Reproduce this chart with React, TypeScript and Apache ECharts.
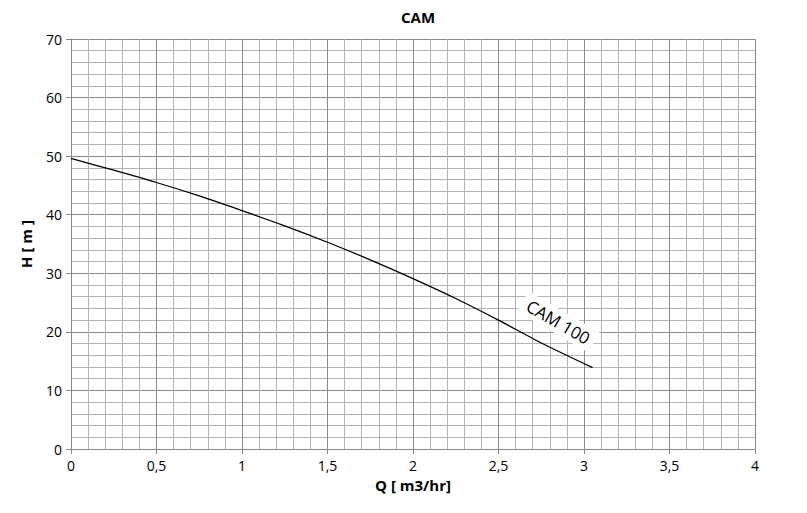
import React, { useEffect, useRef } from "react";
import * as echarts from "echarts";

const flowQ = [0, 0.25, 0.5, 0.75, 1, 1.25, 1.5, 1.75, 2, 2.25, 2.5, 2.75, 3.05];
const headH = [49.6, 47.6, 45.5, 43.2, 40.7, 38.1, 35.3, 32.3, 29.1, 25.7, 22.0, 18.1, 13.9];
const curveName = "CAM 100";
const labelAt = [2.85, 21.7];

const fmt = (v: number) => String(v).replace(".", ",");

export default function App() {
  const ref = useRef<HTMLDivElement>(null);
  useEffect(() => {
    if (!ref.current) return;
    const chart = echarts.init(ref.current, null, { renderer: "svg" });
    const font = "'Open Sans', 'Noto Sans', sans-serif";
    chart.setOption({
      animation: false,
      backgroundColor: "#fff",
      title: {
        text: "CAM",
        left: 413,
        textAlign: "center",
        top: 4,
        textStyle: { fontFamily: font, fontSize: 15, fontWeight: "bold", color: "#000" },
      },
      grid: { left: 71, right: 52, top: 39, bottom: 64 },
      xAxis: {
        type: "value",
        min: 0,
        max: 4,
        interval: 0.5,
        name: "Q [ m3/hr]",
        nameLocation: "middle",
        nameGap: 28,
        nameTextStyle: { fontFamily: font, fontSize: 15, fontWeight: "bold", color: "#000" },
        axisLine: { show: true, lineStyle: { color: "#888", width: 1 } },
        axisTick: { show: true, length: 5, lineStyle: { color: "#888" } },
        axisLabel: { formatter: fmt, margin: 9, fontFamily: font, fontSize: 14, color: "#000" },
        splitLine: { show: true, lineStyle: { color: "#8a8a8a", width: 1 } },
        minorTick: { show: false, splitNumber: 5 },
        minorSplitLine: { show: true, lineStyle: { color: "#b4b4b4", width: 1 } },
      },
      yAxis: {
        type: "value",
        min: 0,
        max: 70,
        interval: 10,
        name: "H [ m ]",
        nameLocation: "middle",
        nameGap: 38,
        nameRotate: 90,
        nameTextStyle: { fontFamily: font, fontSize: 15, fontWeight: "bold", color: "#000" },
        axisLine: { show: true, lineStyle: { color: "#888", width: 1 } },
        axisTick: { show: true, length: 5, lineStyle: { color: "#888" } },
        axisLabel: { margin: 9, fontFamily: font, fontSize: 14, color: "#000" },
        splitLine: { show: true, lineStyle: { color: "#8a8a8a", width: 1 } },
        minorTick: { show: false, splitNumber: 5 },
        minorSplitLine: { show: true, lineStyle: { color: "#b4b4b4", width: 1 } },
      },
      series: [
        {
          type: "line",
          name: curveName,
          data: flowQ.map((q, i) => [q, headH[i]]),
          smooth: 0.25,
          showSymbol: false,
          symbol: "none",
          lineStyle: { color: "#000", width: 1.3 },
          markPoint: {
            symbol: "rect",
            symbolSize: 0,
            data: [{ coord: labelAt }],
            label: {
              show: true,
              formatter: curveName,
              rotate: -30,
              position: "inside",
              fontFamily: font,
              fontSize: 17,
              color: "#000",
              backgroundColor: "#fff",
              padding: [3, 6],
            },
          },
        },
      ],
    });
    return () => chart.dispose();
  }, []);
  return (
    <div
      ref={ref}
      style={{ position: "fixed", left: 0, top: 0, width: 807, height: 513 }}
    />
  );
}
